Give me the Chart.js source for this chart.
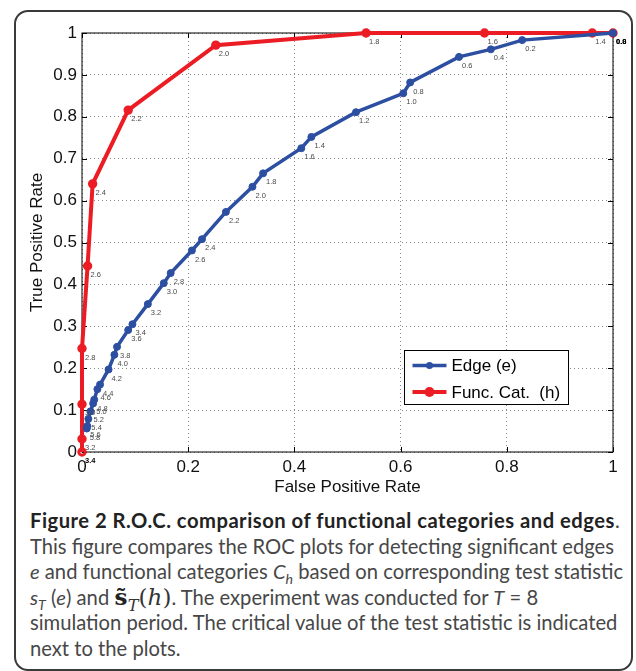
<!DOCTYPE html>
<html>
<head>
<meta charset="utf-8">
<script src="https://cdn.jsdelivr.net/npm/chart.js@4.4.1/dist/chart.umd.min.js"></script>
<style>
  body { margin: 0; background: #fff; }
  #frame { position: absolute; left: 14px; top: 10px; width: 615px; height: 657px; border: 2px solid #3a3a3a; border-radius: 14px; }
  #plot { position: absolute; left: 0; top: 0; width: 636px; height: 500px; }
  #caption { position: absolute; left: 30px; top: 508px; font-family: Lato, sans-serif; font-size: 20.2px; line-height: 25.5px; color: #474747; white-space: nowrap; }
  #caption b { color: #222; letter-spacing: 0.5px; }
  #caption sub { font-size: 0.7em; line-height: 0; }
  #caption .m { font-family: "DejaVu Serif", serif; font-size: 23px; line-height: 0; color: #333; letter-spacing: 0; }
</style>
</head>
<body>
<div id="frame"></div>
<div id="plot"><canvas id="roc"></canvas></div>
<div id="caption">
<b>Figure 2 R.O.C. comparison of functional categories and edges</b>.<br>
This figure compares the ROC plots for detecting significant edges<br>
<i>e</i> and functional categories <i>C<sub>h</sub></i> based on corresponding test statistic<br>
<i>s<sub>T</sub></i> (<i>e</i>) and <span class="m"><b>s&#771;</b><sub><i>T</i></sub>(<i>h</i>)</span>. The experiment was conducted for <i>T</i> = 8<br>
simulation period. The critical value of the test statistic is indicated<br>
next to the plots.
</div>
<script>
// Edge (e): false positive rate, true positive rate, critical value
const edgeFpr = [1.0, 0.829, 0.770, 0.710, 0.618, 0.605, 0.516, 0.432, 0.413, 0.341,
                 0.321, 0.271, 0.226, 0.207, 0.167, 0.154, 0.124, 0.095, 0.087, 0.066,
                 0.061, 0.050, 0.034, 0.029, 0.023, 0.021, 0.016, 0.012, 0.010, 0.009];
const edgeTpr = [1.0, 0.983, 0.961, 0.943, 0.882, 0.856, 0.811, 0.752, 0.725, 0.665,
                 0.633, 0.573, 0.508, 0.481, 0.427, 0.403, 0.353, 0.305, 0.291, 0.251,
                 0.232, 0.197, 0.161, 0.150, 0.125, 0.116, 0.097, 0.079, 0.062, 0.056];
const edgeCrit = ['0.0', '0.2', '0.4', '0.6', '0.8', '1.0', '1.2', '1.4', '1.6', '1.8',
                  '2.0', '2.2', '2.4', '2.6', '2.8', '3.0', '3.2', '3.4', '3.6', '3.8',
                  '4.0', '4.2', '4.4', '4.6', '4.8', '5.0', '5.2', '5.4', '5.6', '5.8'];

// Func. Cat. (h)
const catFpr = [1.0, 0.961, 0.758, 0.535, 0.252, 0.087, 0.020, 0.0105, 0, 0, 0, 0];
const catTpr = [1.0, 1.0, 1.0, 1.0, 0.971, 0.816, 0.640, 0.444, 0.247, 0.114, 0.031, 0];
const catCrit = ['0.8', '1.4', '1.6', '1.8', '2.0', '2.2', '2.4', '2.6', '2.8', '3.0', '3.2', '3.4'];

const xTicks = [0, 0.2, 0.4, 0.6, 0.8, 1];
const xTickText = ['0', '0.2', '0.4', '0.6', '0.8', '1'];
const yTicks = [0, 0.1, 0.2, 0.3, 0.4, 0.5, 0.6, 0.7, 0.8, 0.9, 1];
const yTickText = ['0', '0.1', '0.2', '0.3', '0.4', '0.5', '0.6', '0.7', '0.8', '0.9', '1'];

const blue = '#2d4fa1';
const red = '#ec1c24';
const axisFont = { family: '"Liberation Sans", Arial, sans-serif', size: 17 };

// box round the plot, with inward ticks like the original
const boxPlugin = {
    id: 'box',
    beforeDatasetsDraw(chart) {
        const { ctx, chartArea: a, scales } = chart;
        ctx.save();
        ctx.strokeStyle = '#000';
        ctx.lineWidth = 1;
        ctx.strokeRect(a.left, a.top, a.right - a.left, a.bottom - a.top);
        ctx.beginPath();
        scales.x.ticks.forEach(t => {
            const px = Math.round(scales.x.getPixelForValue(t.value)) + 0.5;
            ctx.moveTo(px, a.bottom); ctx.lineTo(px, a.bottom - 5);
            ctx.moveTo(px, a.top); ctx.lineTo(px, a.top + 5);
        });
        scales.y.ticks.forEach(t => {
            const py = Math.round(scales.y.getPixelForValue(t.value)) + 0.5;
            ctx.moveTo(a.left, py); ctx.lineTo(a.left + 5, py);
            ctx.moveTo(a.right, py); ctx.lineTo(a.right - 5, py);
        });
        ctx.stroke();
        ctx.restore();
    }
};

// critical value written next to every point
const critLabels = {
    id: 'critLabels',
    afterDatasetsDraw(chart) {
        const { ctx } = chart;
        ctx.save();
        ctx.textAlign = 'left';
        ctx.textBaseline = 'middle';
        chart.data.datasets.forEach((ds, i) => {
            const meta = chart.getDatasetMeta(i);
            meta.data.forEach((pt, j) => {
                const v = ds.data[j];
                const corner = (v.x === 1 && v.y === 1) || (v.x === 0 && v.y === 0);
                ctx.fillStyle = corner ? '#000' : '#4a4a4a';
                ctx.font = (corner ? 'bold ' : '') + '7.5px "Liberation Sans", Arial, sans-serif';
                ctx.fillText(ds.crit[j], pt.x + 3, pt.y + 9);
            });
        });
        ctx.restore();
    }
};

// legend box inside the plot, lower right
const legendBox = {
    id: 'legendBox',
    afterDraw(chart) {
        const { ctx, chartArea: a } = chart;
        const w = a.right - a.left, h = a.bottom - a.top;
        const x0 = Math.round(a.left + 0.607 * w) + 0.5;
        const y0 = Math.round(a.top + 0.757 * h) + 0.5;
        const bw = 164, bh = 54;
        ctx.save();
        ctx.fillStyle = '#fff';
        ctx.fillRect(x0, y0, bw, bh);
        ctx.strokeStyle = '#000';
        ctx.lineWidth = 1;
        ctx.strokeRect(x0, y0, bw, bh);
        ctx.font = '17px "Liberation Sans", Arial, sans-serif';
        ctx.textBaseline = 'middle';
        chart.data.datasets.forEach((ds, i) => {
            const cy = y0 + 15 + i * 26.5;
            ctx.strokeStyle = ds.borderColor;
            ctx.lineWidth = ds.borderWidth;
            ctx.beginPath();
            ctx.moveTo(x0 + 8, cy);
            ctx.lineTo(x0 + 42, cy);
            ctx.stroke();
            ctx.fillStyle = ds.borderColor;
            ctx.beginPath();
            ctx.arc(x0 + 25, cy, i === 0 ? 3.5 : 5, 0, Math.PI * 2);
            ctx.fill();
            ctx.fillStyle = '#000';
            ctx.fillText(ds.label, x0 + 47, cy + 1);
        });
        ctx.restore();
    }
};

new Chart(document.getElementById('roc').getContext('2d'), {
    type: 'scatter',
    data: {
        datasets: [{
            label: 'Edge (e)',
            data: edgeFpr.map((x, i) => ({ x: x, y: edgeTpr[i] })),
            crit: edgeCrit,
            showLine: true,
            borderColor: blue,
            backgroundColor: blue,
            borderWidth: 3.5,
            pointRadius: 3.5,
            pointBorderWidth: 1,
            pointBackgroundColor: blue,
            clip: false
        }, {
            label: 'Func. Cat.  (h)',
            data: catFpr.map((x, i) => ({ x: x, y: catTpr[i] })),
            crit: catCrit,
            showLine: true,
            borderColor: red,
            backgroundColor: red,
            borderWidth: 4,
            pointRadius: 3.2,
            pointBorderWidth: 3,
            pointBackgroundColor: 'rgba(0,0,0,0)',
            clip: false
        }]
    },
    options: {
        responsive: true,
        maintainAspectRatio: false,
        animation: false,
        layout: {
            padding: { left: 0, top: 33, right: 23, bottom: 0 }
        },
        scales: {
            x: {
                type: 'linear',
                min: 0,
                max: 1,
                afterBuildTicks: s => { s.ticks = xTicks.map(v => ({ value: v })); },
                afterFit: s => { s.height = 48; },
                ticks: {
                    callback: (v, i) => xTickText[i],
                    font: axisFont,
                    color: '#111',
                    padding: 5,
                    maxRotation: 0
                },
                grid: { color: '#8a8a8a', lineWidth: 1, drawTicks: false },
                border: { display: false, dash: [1, 3] },
                title: {
                    display: true,
                    text: 'False Positive Rate',
                    font: axisFont,
                    color: '#111',
                    padding: { top: 0, bottom: 2 }
                }
            },
            y: {
                type: 'linear',
                min: 0,
                max: 1,
                afterBuildTicks: s => { s.ticks = yTicks.map(v => ({ value: v })); },
                afterFit: s => { s.width = 82; },
                ticks: {
                    callback: (v, i) => yTickText[i],
                    font: axisFont,
                    color: '#111',
                    padding: 5
                },
                grid: { color: '#8a8a8a', lineWidth: 1, drawTicks: false },
                border: { display: false, dash: [1, 3] },
                title: {
                    display: true,
                    text: 'True Positive Rate',
                    font: axisFont,
                    color: '#111',
                    padding: { top: 27, bottom: 0 }
                }
            }
        },
        plugins: {
            legend: { display: false },
            tooltip: { enabled: false }
        }
    },
    plugins: [boxPlugin, critLabels, legendBox]
});
</script>
</body>
</html>
